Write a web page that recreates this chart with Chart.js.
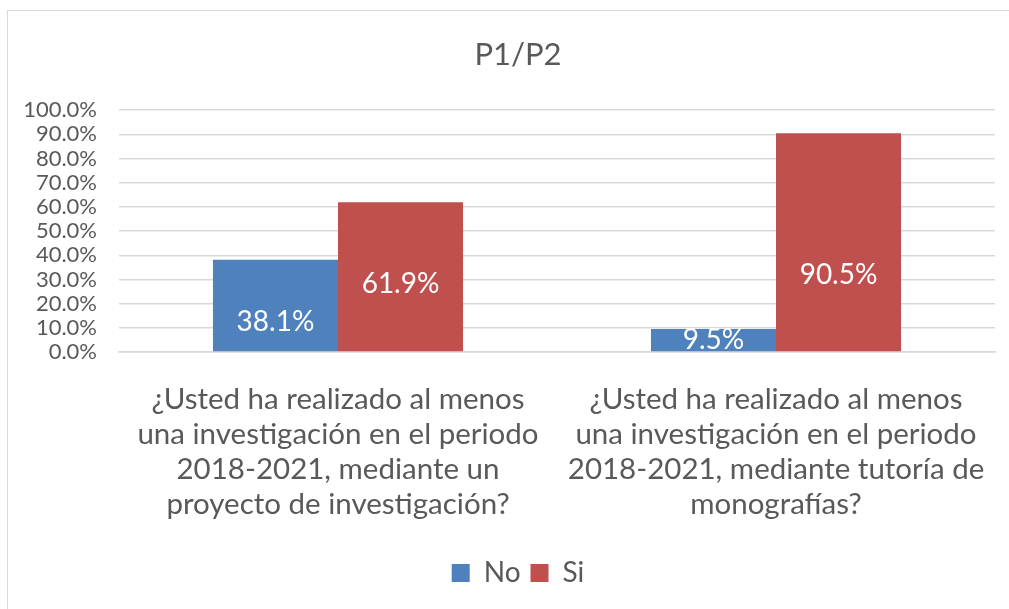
<!DOCTYPE html>
<html>
<head>
<meta charset="utf-8">
<script src="https://cdn.jsdelivr.net/npm/chart.js@4.4.1/dist/chart.umd.min.js"></script>
<style>
  html, body { margin: 0; padding: 0; background: #fff; }
  #wrap { position: relative; width: 1009px; height: 609px; overflow: hidden; }
  #frame { position: absolute; left: 7px; top: 10px; width: 1020px; height: 620px; border: 1px solid #d9d9d9; box-sizing: border-box; }
  #chart { position: absolute; left: 0; top: 0; }
</style>
</head>
<body>
<div id="wrap">
  <div id="frame"></div>
  <!-- el grafico original es mas ancho que la captura, por eso el canvas sobresale -->
  <canvas id="chart" width="1029" height="609"></canvas>
</div>
<script>
// data
const categories = [
    ['¿Usted ha realizado al menos', 'una investigación en el periodo', '2018-2021, mediante un', 'proyecto de investigación?'],
    ['¿Usted ha realizado al menos', 'una investigación en el periodo', '2018-2021, mediante tutoría de', 'monografías?']
];
const seriesNames = ['No', 'Si'];
const valuesNo = [38.1, 9.5];
const valuesSi = [61.9, 90.5];
// where the value labels sit (in axis units), as placed in the original
const labelAtNo = [12.4, 5.0];
const labelAtSi = [28.1, 31.8];
const yTicks = [0, 10, 20, 30, 40, 50, 60, 70, 80, 90, 100];

const FONT = 'Lato, "Open Sans", sans-serif';
const GREY = '#595959';

// dibuja las etiquetas de valor dentro de las barras
const valueLabels = {
    id: 'valueLabels',
    afterDatasetsDraw(chart) {
        const ctx = chart.ctx;
        const yScale = chart.scales.y;
        const labelAt = [labelAtNo, labelAtSi];
        ctx.save();
        ctx.font = '28px ' + FONT;
        ctx.fillStyle = '#ffffff';
        ctx.textAlign = 'center';
        ctx.textBaseline = 'middle';
        chart.data.datasets.forEach((ds, i) => {
            chart.getDatasetMeta(i).data.forEach((bar, j) => {
                const y = yScale.getPixelForValue(labelAt[i][j]);
                ctx.fillText(ds.data[j].toFixed(1) + '%', bar.x, y);
            });
        });
        ctx.restore();
    }
};

new Chart(document.getElementById('chart').getContext('2d'), {
    type: 'bar',
    data: {
        labels: categories,
        datasets: [
            { label: seriesNames[0], data: valuesNo, backgroundColor: '#4F81BD' },
            { label: seriesNames[1], data: valuesSi, backgroundColor: '#C0504D' }
        ]
    },
    options: {
        responsive: false,
        animation: false,
        devicePixelRatio: 1,
        layout: { padding: { top: 20, right: 0, bottom: 12, left: 7 } },
        datasets: { bar: { categoryPercentage: 0.571, barPercentage: 1.0 } },
        scales: {
            y: {
                min: 0,
                max: 100,
                afterFit: (s) => { s.width = 112; },
                afterBuildTicks: (s) => { s.ticks = yTicks.map(v => ({ value: v })); },
                ticks: {
                    color: GREY,
                    font: { family: FONT, size: 22 },
                    padding: 22,
                    autoSkip: false,
                    callback: (v) => v.toFixed(1) + '%'
                },
                grid: { color: '#d9d9d9', lineWidth: 1.5, drawTicks: false },
                border: { display: false }
            },
            // eje vacio a la derecha, solo reserva el margen
            yRight: {
                type: 'linear',
                position: 'right',
                afterFit: (s) => { s.width = 34; },
                ticks: { display: false },
                grid: { display: false },
                border: { display: false }
            },
            x: {
                afterFit: (s) => { s.height = 197; },
                ticks: {
                    color: GREY,
                    font: { family: FONT, size: 29.5, lineHeight: 35 / 29.5 },
                    padding: 21.5,
                    maxRotation: 0,
                    autoSkip: false
                },
                grid: { display: false },
                border: { color: '#d9d9d9', width: 1.5 }
            }
        },
        plugins: {
            title: {
                display: true,
                text: 'P1/P2',
                color: GREY,
                font: { family: FONT, size: 31, weight: 'normal' },
                padding: { top: 16, bottom: 37 }
            },
            legend: {
                position: 'bottom',
                labels: {
                    color: GREY,
                    font: { family: FONT, size: 28 },
                    boxWidth: 18,
                    boxHeight: 18,
                    padding: 10
                }
            },
            tooltip: { enabled: false }
        }
    },
    plugins: [valueLabels]
});
</script>
</body>
</html>
